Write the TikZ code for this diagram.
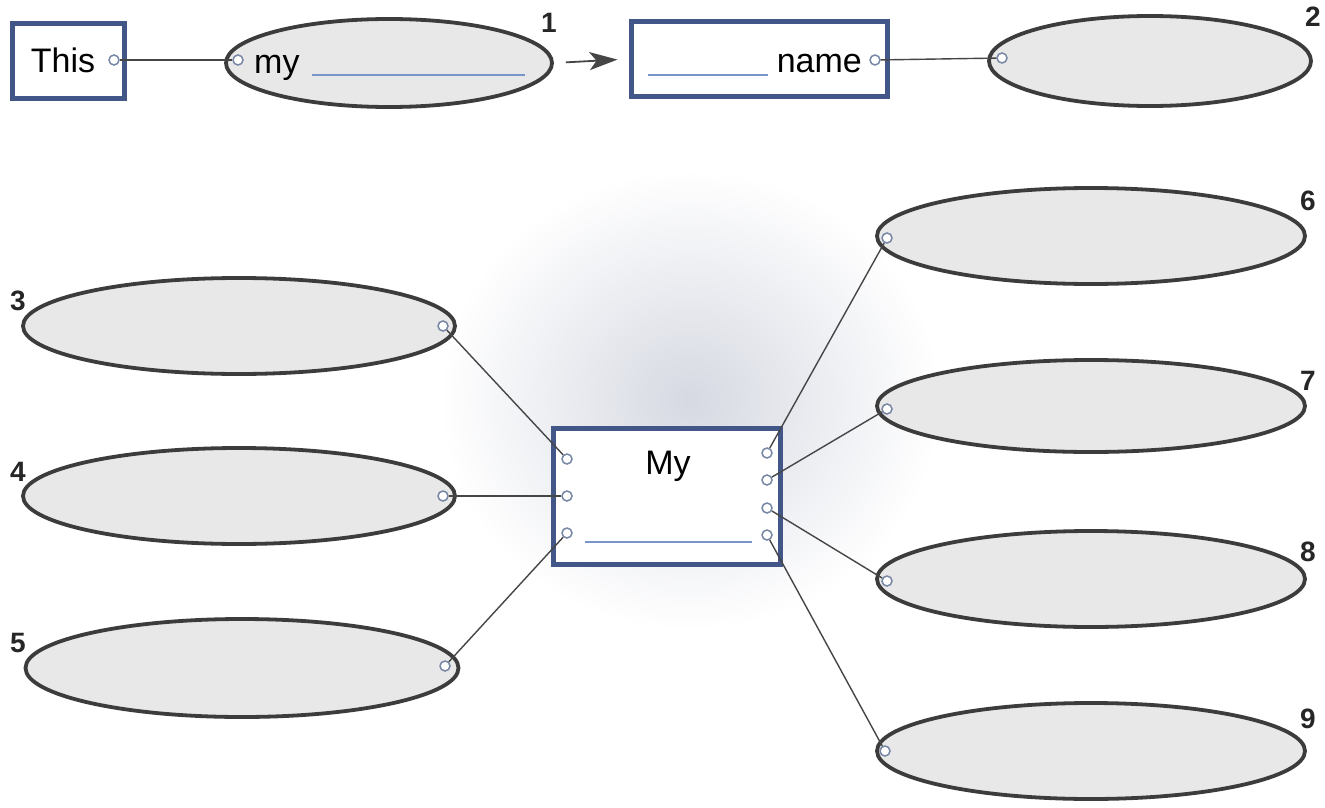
\documentclass[tikz,border=0pt]{standalone}
\usepackage{fontspec}
\setmainfont{Liberation Sans}
\usetikzlibrary{shapes.geometric,arrows.meta}
\definecolor{boxblue}{RGB}{66,86,135}
\definecolor{lineblue}{RGB}{120,148,200}
\definecolor{ellfill}{RGB}{232,232,232}
\definecolor{elldraw}{RGB}{60,60,60}
\definecolor{dotcol}{RGB}{120,135,165}
\definecolor{conn}{RGB}{70,70,70}
\tikzset{
  ell/.style={ellipse, draw=elldraw, fill=ellfill, line width=3.8pt, inner sep=0pt},
  bbox/.style={rectangle, draw=boxblue, fill=white, line width=5pt, inner sep=0pt},
  dot/.style={circle, draw=dotcol, fill=white, line width=1.5pt, minimum size=10pt, inner sep=0pt},
  conn/.style={draw=conn, line width=1.4pt},
  blank/.style={draw=lineblue, line width=1.8pt},
  word/.style={font=\fontsize{34}{40}\selectfont, inner sep=0pt},
  num/.style={font=\fontsize{28}{32}\selectfont\bfseries, inner sep=0pt, text=black!85}
}
\begin{document}
\begin{tikzpicture}[x=1pt,y=-1pt]
\useasboundingbox (0,0) rectangle (1325,808);
\fill[white] (0,0) rectangle (1325,808);
\shade[inner color={rgb,255:red,214;green,217;blue,226}, outer color=white] (690,400) ellipse [x radius=250, y radius=230];

% top row
\node[bbox, minimum width=112pt, minimum height=74pt] (b1) at (68,61) {};
\node[word, anchor=base] (tThis) at (63,73) {This};
\node[dot] (dThis) at (114,60) {};

\node[ell, minimum width=326pt, minimum height=88pt] (e1) at (389,63) {};
\node[word, anchor=base west] (tmy) at (254,74) {my};
\draw[blank] (312,75) coordinate (bl1a) -- (525,75) coordinate (bl1b);
\node[dot] (dmy) at (238,60) {};
\node[num] (n1) at (549,23) {1};

\node[bbox, minimum width=256pt, minimum height=74pt] (b2) at (759,59) {};
\draw[blank] (648,75) coordinate (bl2a) -- (768,75) coordinate (bl2b);
\node[word, anchor=base east] (tname) at (862,73) {name};
\node[dot] (dname) at (875,60) {};

\node[ell, minimum width=322pt, minimum height=90pt] (e2) at (1150,61) {};
\node[dot] (d2) at (1002,58) {};
\node[num] (n2) at (1313,17) {2};

\draw[conn] (dThis) -- (dmy);
\draw[conn] (dname) -- (d2);
\draw[conn, line width=1.8pt, -{Stealth[length=28pt,width=18pt,inset=7pt]}, shorten <=12pt, shorten >=11pt] (e1.east) -- (b2.west);

% center box
\node[bbox, minimum width=227pt, minimum height=136pt] (c) at (666.5,496) {};
\node[word, anchor=base] (tMy) at (668,474) {My};
\draw[blank] (585,542) coordinate (bl3a) -- (752,542) coordinate (bl3b);
\node[dot] (cl1) at (567,459) {};
\node[dot] (cl2) at (567,496) {};
\node[dot] (cl3) at (567,533) {};
\node[dot] (cr1) at (767,453) {};
\node[dot] (cr2) at (767,480) {};
\node[dot] (cr3) at (767,508) {};
\node[dot] (cr4) at (767,535) {};

% left ellipses
\node[ell, minimum width=432pt, minimum height=96pt] (e3) at (239,326) {};
\node[dot] (d3) at (443,326) {};
\node[num] (n3) at (18,301) {3};
\node[ell, minimum width=432pt, minimum height=96pt] (e4) at (239,496) {};
\node[dot] (d4) at (443,496) {};
\node[num] (n4) at (18,472) {4};
\node[ell, minimum width=433pt, minimum height=98pt] (e5) at (242,668) {};
\node[dot] (d5) at (445,666) {};
\node[num] (n5) at (18,643) {5};

% right ellipses
\node[ell, minimum width=428pt, minimum height=96pt] (e6) at (1091,236) {};
\node[dot] (d6) at (887,238) {};
\node[num] (n6) at (1308,201) {6};
\node[ell, minimum width=428pt, minimum height=92pt] (e7) at (1091,406) {};
\node[dot] (d7) at (887,409) {};
\node[num] (n7) at (1308,381) {7};
\node[ell, minimum width=428pt, minimum height=96pt] (e8) at (1091,579) {};
\node[dot] (d8) at (887,581) {};
\node[num] (n8) at (1308,552) {8};
\node[ell, minimum width=428pt, minimum height=96pt] (e9) at (1091,751) {};
\node[dot] (d9) at (885,751) {};
\node[num] (n9) at (1308,719) {9};

% connectors
\draw[conn] (cl1) -- (d3);
\draw[conn] (cl2) -- (d4);
\draw[conn] (cl3) -- (d5);
\draw[conn] (cr1) -- (d6);
\draw[conn] (cr2) -- (d7);
\draw[conn] (cr3) -- (d8);
\draw[conn] (cr4) -- (d9);
\end{tikzpicture}
\end{document}
